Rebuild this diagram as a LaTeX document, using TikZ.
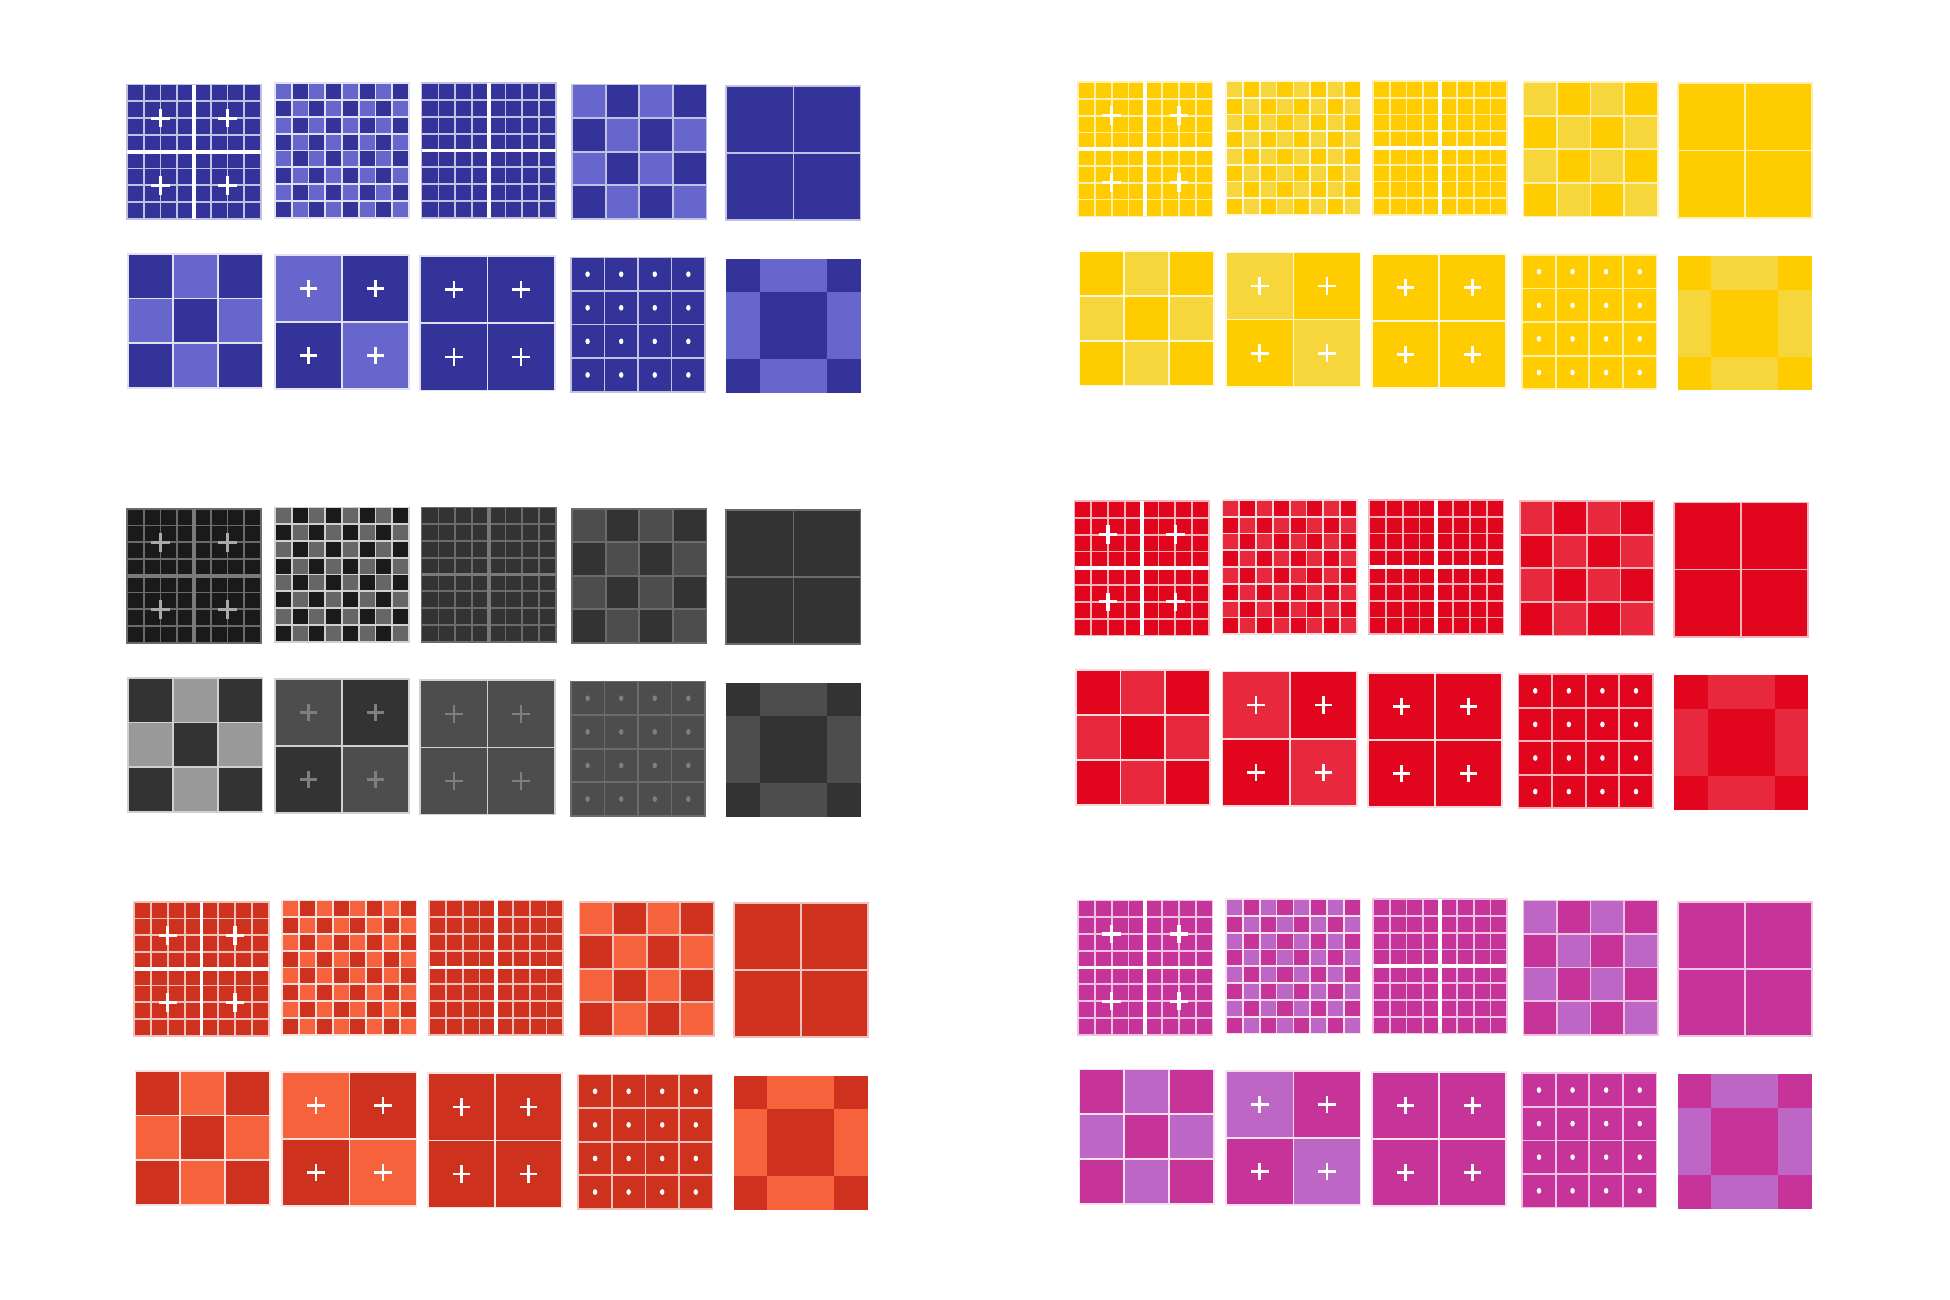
\documentclass[tikz,border=0pt]{standalone}
\definecolor{blueD}{HTML}{333399}
\definecolor{blueL}{HTML}{6666CC}
\definecolor{yelD}{HTML}{FFCC00}
\definecolor{yelL}{HTML}{F7D63C}
\definecolor{redD}{HTML}{E1051E}
\definecolor{redL}{HTML}{E8283C}
\definecolor{oraD}{HTML}{CE321E}
\definecolor{oraL}{HTML}{F5623C}
\definecolor{magD}{HTML}{C63399}
\definecolor{magL}{HTML}{BD66C6}
\begin{document}
\begin{tikzpicture}[x=0.012436cm,y=-0.012436cm,
    gridln/.style={draw=lnA,line width=0.5pt},
    gridlnB/.style={draw=lnB,line width=0.5pt},
    sepln/.style={draw=sep,line width=1.1pt},
    crossln/.style={draw=xA,line width=0.9pt},
    crosslnB/.style={draw=xB,line width=0.75pt},
    dotmark/.style={fill=xB}]
    \useasboundingbox (0,0) rectangle (1568,1045);
    \def\S{108}     %tile size
    \def\colgroup#1#2{\colorlet{dk}{#1}\colorlet{lt}{#2}\colorlet{dkA}{#1}\colorlet{ltA}{#2}%
        \colorlet{ltB}{#2}\colorlet{mid}{#1}\colorlet{lnA}{white!70!#1}\colorlet{lnB}{white!85!#1}%
        \colorlet{sep}{white}\colorlet{xA}{white}\colorlet{xB}{white}}
    % 8x8 grid in 2x2 blocks
    \def\blockgrid{%
        \foreach \k in {13.5,27,40.5,67.5,81,94.5}
            {\draw[gridln] (\k,0) -- (\k,\S) (0,\k) -- (\S,\k);}
        \draw[gridln] (0,0) rectangle (\S,\S);
        \draw[sepln] (54,0) -- (54,\S) (0,54) -- (\S,54);}
    \def\tileA{%
        \fill[dkA] (0,0) rectangle (\S,\S);
        \blockgrid
        \foreach \cx/\cy in {27/27,81/27,27/81,81/81}
            {\draw[crossln] (\cx-7.5,\cy) -- (\cx+7.5,\cy) (\cx,\cy-7.5) -- (\cx,\cy+7.5);}}
    \def\tileB{%
        \fill[dkA] (0,0) rectangle (\S,\S);
        \foreach \i in {0,...,7} {\foreach \j in {0,...,7} {
            \pgfmathtruncatemacro\chk{mod(\i+\j,2)}
            \ifnum\chk=0 \fill[ltA] (\i*13.5,\j*13.5) rectangle ++(13.5,13.5); \fi}}
        \foreach \k in {13.5,27,40.5,54,67.5,81,94.5}
            {\draw[gridlnB] (\k,0) -- (\k,\S) (0,\k) -- (\S,\k);}
        \draw[gridlnB] (0,0) rectangle (\S,\S);}
    \def\tileC{%
        \fill[dk] (0,0) rectangle (\S,\S);
        \blockgrid}
    \def\tileD{%
        \fill[dk] (0,0) rectangle (\S,\S);
        \foreach \i in {0,...,3} {\foreach \j in {0,...,3} {
            \pgfmathtruncatemacro\chk{mod(\i+\j,2)}
            \ifnum\chk=0 \fill[lt] (\i*27,\j*27) rectangle ++(27,27); \fi}}
        \foreach \k in {27,54,81}
            {\draw[gridln] (\k,0) -- (\k,\S) (0,\k) -- (\S,\k);}
        \draw[gridln] (0,0) rectangle (\S,\S);}
    \def\tileE{%
        \fill[dk] (0,0) rectangle (\S,\S);
        \draw[gridln] (54,0) -- (54,\S) (0,54) -- (\S,54);
        \draw[gridln] (0,0) rectangle (\S,\S);}
    \def\tileF{%
        \fill[dk] (0,0) rectangle (\S,\S);
        \foreach \i/\j in {1/0,0/1,2/1,1/2}
            {\fill[ltB] (\i*36,\j*36) rectangle ++(36,36);}
        \foreach \k in {36,72}
            {\draw[gridlnB] (\k,0) -- (\k,\S) (0,\k) -- (\S,\k);}
        \draw[gridlnB] (0,0) rectangle (\S,\S);}
    \def\tileG{%
        \fill[dk] (0,0) rectangle (\S,\S);
        \fill[lt] (0,0) rectangle (54,54);
        \fill[lt] (54,54) rectangle (\S,\S);
        \draw[gridlnB] (54,0) -- (54,\S) (0,54) -- (\S,54);
        \draw[gridlnB] (0,0) rectangle (\S,\S);
        \foreach \cx/\cy in {27/27,81/27,27/81,81/81}
            {\draw[crosslnB] (\cx-7,\cy) -- (\cx+7,\cy) (\cx,\cy-7) -- (\cx,\cy+7);}}
    \def\tileH{%
        \fill[mid] (0,0) rectangle (\S,\S);
        \draw[gridlnB] (54,0) -- (54,\S) (0,54) -- (\S,54);
        \draw[gridlnB] (0,0) rectangle (\S,\S);
        \foreach \cx/\cy in {27/27,81/27,27/81,81/81}
            {\draw[crosslnB] (\cx-7,\cy) -- (\cx+7,\cy) (\cx,\cy-7) -- (\cx,\cy+7);}}
    \def\tileI{%
        \fill[mid] (0,0) rectangle (\S,\S);
        \foreach \k in {27,54,81}
            {\draw[gridln] (\k,0) -- (\k,\S) (0,\k) -- (\S,\k);}
        \draw[gridln] (0,0) rectangle (\S,\S);
        \foreach \i in {0,...,3} {\foreach \j in {0,...,3}
            {\fill[dotmark] (\i*27+13.5,\j*27+13.5) ellipse (1.8 and 2.3);}}}
    \def\tileJ{%
        \fill[dk] (0,0) rectangle (\S,\S);
        \fill[lt] (27,0) rectangle (81,27);
        \fill[lt] (0,27) rectangle (27,81);
        \fill[lt] (81,27) rectangle (\S,81);
        \fill[lt] (27,81) rectangle (81,\S);}
    % one colour group: two rows of five tiles
    \def\tileset#1#2{%
        \begin{scope}[shift={(#1,#2)}]
            \foreach \t/\dx/\dy in {A/0/0,B/119/-1,C/237/-1,D/358/0,E/482/1,
                                    F/1/136,G/119/137,H/236/138,I/357/139,J/482/140}
                {\begin{scope}[shift={(\dx,\dy)}] \csname tile\t\endcsname \end{scope}}
        \end{scope}}
    \colgroup{blueD}{blueL}
    \tileset{102}{68}
    \colgroup{yelD}{yelL}
    \tileset{867}{66}
    \colgroup{redD}{redL}
    \tileset{864}{403}
    \colgroup{oraD}{oraL}
    \tileset{108}{725}
    \colgroup{magD}{magL}
    \tileset{867}{724}
    % grey group
    \definecolor{dkA}{HTML}{1A1A1A}
    \definecolor{ltA}{HTML}{666666}
    \definecolor{dk}{HTML}{333333}
    \definecolor{lt}{HTML}{4D4D4D}
    \definecolor{ltB}{HTML}{999999}
    \definecolor{mid}{HTML}{4D4D4D}
    \definecolor{lnA}{HTML}{6B6B6B}
    \definecolor{lnB}{HTML}{D0D0D0}
    \definecolor{sep}{HTML}{7A7A7A}
    \definecolor{xA}{HTML}{AAAAAA}
    \definecolor{xB}{HTML}{7F7F7F}
    \tileset{102}{409}
\end{tikzpicture}
\end{document}
